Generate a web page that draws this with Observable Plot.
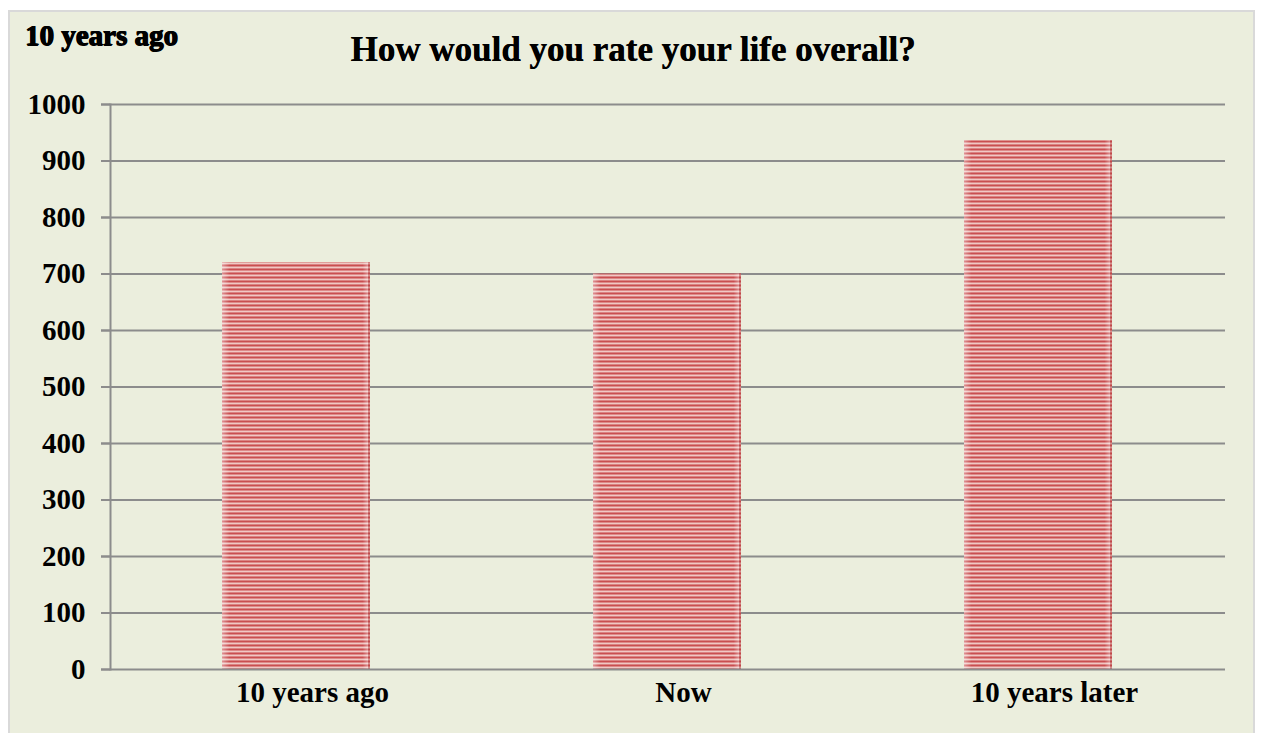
<!DOCTYPE html>
<html><head><meta charset="utf-8">
<script src="https://cdn.jsdelivr.net/npm/d3@7"></script>
<script src="https://cdn.jsdelivr.net/npm/@observablehq/plot@0.6"></script>
<style>
body{margin:0;background:#fff;}
#wrap{position:relative;width:1262px;height:733px;overflow:hidden;font-family:"Liberation Serif","Times New Roman",serif;}
#panel{position:absolute;left:8px;top:10px;width:1247px;height:740px;background:#ebeedd;border:2px solid #d9d9d9;box-sizing:border-box;}
#title{position:absolute;left:2px;width:1262px;top:30px;text-align:center;font-weight:bold;font-size:35px;line-height:40px;color:#000;text-shadow:0.4px 0 0 #000;}
#corner{position:absolute;left:25px;top:18px;font-weight:bold;font-size:29px;line-height:34px;color:#000;text-shadow:0.7px 0 0 #000,-0.5px 0 0 #000,0 0.5px 0 #000;}
#chart{position:absolute;left:0;top:0;}
</style></head><body>
<div id="wrap"><div id="panel"></div><div id="chart"></div>
<div id="corner">10 years ago</div>
<div id="title">How would you rate your life overall?</div></div>
<script>
const categories = ["10 years ago","Now","10 years later"];
const values = [720, 700, 936];
const yTicks = [0,100,200,300,400,500,600,700,800,900,1000];
const data = categories.map((c,i)=>({cat:c, value:values[i]}));

const plot = Plot.plot({
  width:1262, height:733,
  marginLeft:110, marginRight:37, marginTop:104, marginBottom:64,
  style:{background:"transparent", fontFamily:"Liberation Serif, Times New Roman, serif", fontSize:"29px", fontWeight:"bold", color:"#000"},
  x:{domain:categories, paddingInner:0.6, paddingOuter:0.3, label:null},
  y:{domain:[0,1000], label:null},
  marks:[
    Plot.ruleY(yTicks.slice(1), {stroke:"#8c8c8c", strokeWidth:2, strokeOpacity:1, insetLeft:-9}),
    Plot.barY(data, {x:"cat", y:"value", fill:"url(#stripes)"}),
    Plot.barY(data, {x:"cat", y:"value", fill:"url(#edgeShade)"}),
    Plot.axisY({ticks:yTicks, tickFormat:"d", tickSize:9, tickPadding:16, stroke:"#8c8c8c", strokeWidth:2, strokeOpacity:1, fontSize:29, fontWeight:"bold", label:null}),
    Plot.axisX({tickSize:0, tickPadding:12, dx:16, fontSize:29, fontWeight:"bold", label:null}),
    Plot.ruleY([0], {stroke:"#8c8c8c", strokeWidth:2, insetLeft:-9}),
    Plot.frame({anchor:"left", stroke:"#8c8c8c", strokeWidth:2})
  ]
});
const svg = d3.select(plot);
const defs = svg.insert("defs",":first-child");
const pat = defs.append("pattern").attr("id","stripes").attr("patternUnits","userSpaceOnUse").attr("width",10).attr("height",4);
pat.append("rect").attr("width",10).attr("height",4).attr("fill","#f4d4d1");
pat.append("rect").attr("y",0.4).attr("width",10).attr("height",2.2).attr("fill","#ca4e50");
pat.append("rect").attr("y",2.6).attr("width",10).attr("height",0.6).attr("fill","#e39593");
const g = defs.append("linearGradient").attr("id","edgeShade").attr("x1","0").attr("x2","1").attr("y1","0").attr("y2","0");
g.append("stop").attr("offset","0").attr("stop-color","#ffffff").attr("stop-opacity",0.4);
g.append("stop").attr("offset","0.05").attr("stop-color","#ffffff").attr("stop-opacity",0);
g.append("stop").attr("offset","0.95").attr("stop-color","#ffffff").attr("stop-opacity",0);
g.append("stop").attr("offset","0.985").attr("stop-color","#ffffff").attr("stop-opacity",0.35);
g.append("stop").attr("offset","0.99").attr("stop-color","#b04040").attr("stop-opacity",0.4);
g.append("stop").attr("offset","1").attr("stop-color","#b04040").attr("stop-opacity",0.4);
document.getElementById("chart").appendChild(plot);
</script>
</body></html>
